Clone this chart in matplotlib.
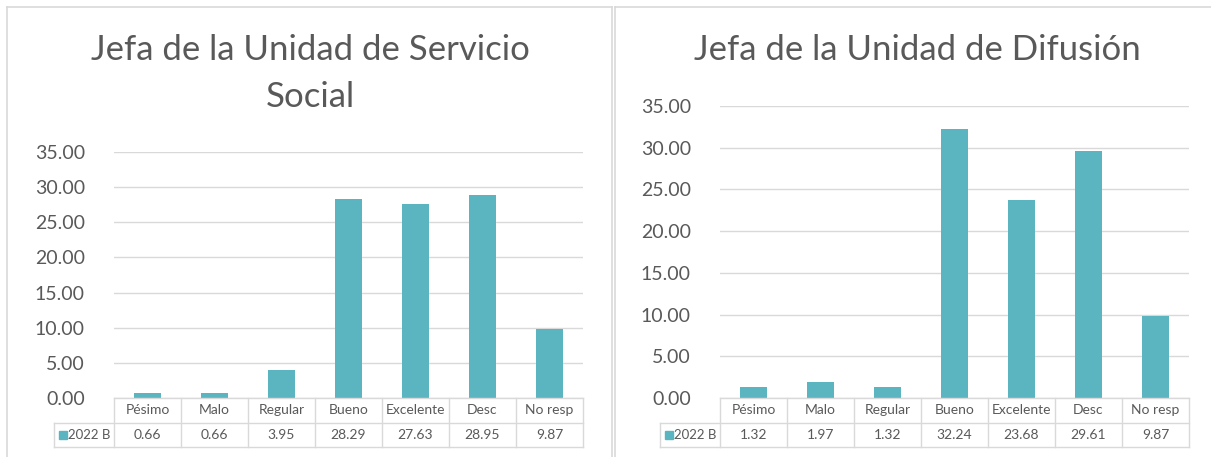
import matplotlib.pyplot as plt
from matplotlib.patches import Rectangle
from matplotlib.lines import Line2D

plt.rcParams['font.family'] = ['Lato', 'DejaVu Sans']

W, H = 1211, 457

categorias = ['Pésimo', 'Malo', 'Regular', 'Bueno', 'Excelente', 'Desc', 'No resp']
serie = '2022 B'
servicio_social = [0.66, 0.66, 3.95, 28.29, 27.63, 28.95, 9.87]
difusion = [1.32, 1.97, 1.32, 32.24, 23.68, 29.61, 9.87]

titulo_1 = 'Jefa de la Unidad de Servicio\nSocial'
titulo_2 = 'Jefa de la Unidad de Difusión'

COLOR = '#5BB5C1'
GRIS = '#D9D9D9'
TEXTO = '#595959'

fig = plt.figure(figsize=(W / 100, H / 100), dpi=100)


def fx(px):
    return px / W


def fy(py):
    return 1 - py / H


# marcos de los dos gráficos
for x0, x1 in [(7, 612), (615, 1215)]:
    fig.add_artist(Line2D([fx(x0), fx(x0)], [fy(7), fy(460)], color=GRIS, lw=1.2))
    fig.add_artist(Line2D([fx(x0), fx(x1)], [fy(7), fy(7)], color=GRIS, lw=1.2))
    fig.add_artist(Line2D([fx(x1), fx(x1)], [fy(7), fy(460)], color=GRIS, lw=1.2))


def grafico(left, right, top, bottom, valores, titulo, title_x):
    ax = fig.add_axes([fx(left), fy(bottom), fx(right - left), (bottom - top) / H])
    x = range(len(categorias))
    ax.bar(x, valores, width=0.4, color=COLOR, zorder=3)
    ax.set_xlim(-0.5, len(categorias) - 0.5)
    ax.set_ylim(0, 35)
    ax.set_yticks(range(0, 36, 5))
    ax.set_yticklabels([f'{v:.2f}' for v in range(0, 36, 5)])
    ax.tick_params(axis='y', length=0, labelsize=14, labelcolor=TEXTO, pad=21)
    ax.set_xticks([])
    ax.grid(axis='y', color=GRIS, lw=1, zorder=0)
    for s in ax.spines.values():
        s.set_visible(False)
    fig.text(fx(title_x), fy(34), titulo, ha='center', va='top',
             fontsize=25, color=TEXTO, linespacing=1.58)

    # tabla de datos
    n = len(categorias)
    cw = (right - left) / n
    r0, r1, r2 = bottom, bottom + 24.5, bottom + 49
    leg_left = left - 60
    lw = 1
    fig.add_artist(Line2D([fx(left), fx(right)], [fy(r0), fy(r0)], color=GRIS, lw=lw))
    fig.add_artist(Line2D([fx(leg_left), fx(right)], [fy(r1), fy(r1)], color=GRIS, lw=lw))
    fig.add_artist(Line2D([fx(leg_left), fx(right)], [fy(r2), fy(r2)], color=GRIS, lw=lw))
    fig.add_artist(Line2D([fx(leg_left), fx(leg_left)], [fy(r1), fy(r2)], color=GRIS, lw=lw))
    for i in range(n + 1):
        xx = left + i * cw
        fig.add_artist(Line2D([fx(xx), fx(xx)], [fy(r0), fy(r2)], color=GRIS, lw=lw))
    for i, (c, v) in enumerate(zip(categorias, valores)):
        cx = left + (i + 0.5) * cw
        fig.text(fx(cx), fy((r0 + r1) / 2), c, ha='center', va='center',
                 fontsize=10, color=TEXTO)
        fig.text(fx(cx), fy((r1 + r2) / 2), f'{v:.2f}', ha='center', va='center',
                 fontsize=10, color=TEXTO)
    fig.add_artist(Rectangle((fx(leg_left + 5), fy((r1 + r2) / 2 + 4)), 8 / W, 8 / H,
                             color=COLOR, transform=fig.transFigure))
    fig.text(fx(leg_left + 14), fy((r1 + r2) / 2), serie, ha='left', va='center',
             fontsize=9.5, color=TEXTO)
    return ax


grafico(114, 583, 152, 398, servicio_social, titulo_1, 310)
grafico(720, 1189, 106, 398, difusion, titulo_2, 917)

fig.savefig('out.png', dpi=100)
